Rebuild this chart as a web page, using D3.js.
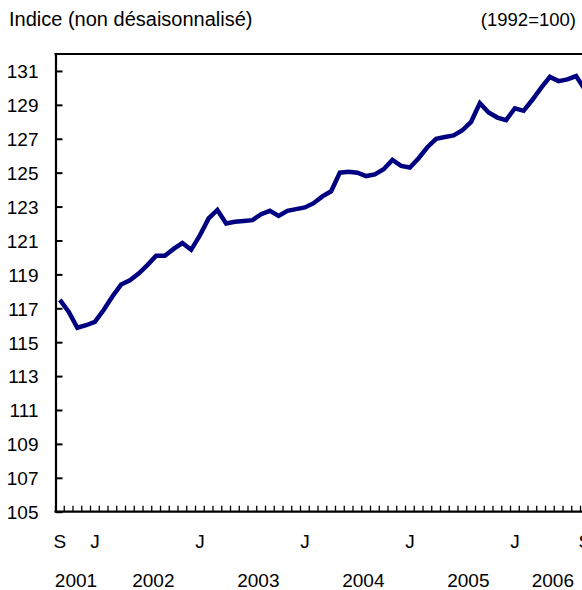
<!DOCTYPE html>
<html>
<head>
<meta charset="utf-8">
<script src="https://cdn.jsdelivr.net/npm/d3@7"></script>
<style>
    body { margin: 0; background: #fff; }
    text { font-family: "Liberation Sans", Arial, sans-serif; fill: #000; }
</style>
</head>
<body>
<div id="chart"></div>
<script>
// monthly index values, Sep 2001 -> Sep 2006
var months = d3.timeMonth.range(new Date(2001, 8, 1), new Date(2006, 9, 1));
var values = [117.5, 116.8, 115.85, 116.0, 116.2, 116.9, 117.7, 118.4, 118.65, 119.05,
    119.55, 120.1, 120.1, 120.5, 120.85, 120.45, 121.3, 122.3, 122.8, 122.0,
    122.1, 122.15, 122.2, 122.55, 122.75, 122.45, 122.75, 122.85, 122.95, 123.2,
    123.6, 123.9, 125.0, 125.05, 125.0, 124.8, 124.9, 125.2, 125.75, 125.4,
    125.3, 125.85, 126.5, 127.0, 127.1, 127.2, 127.5, 128.0, 129.1, 128.55,
    128.25, 128.1, 128.8, 128.65, 129.3, 130.0, 130.65, 130.4, 130.5, 130.7,
    129.9];
var yTicks = [105, 107, 109, 111, 113, 115, 117, 119, 121, 123, 125, 127, 129, 131];
var monthTicks = ["2001-09", "2002-01", "2003-01", "2004-01", "2005-01", "2006-01", "2006-09"];
var monthLabels = ["S", "J", "J", "J", "J", "J", "S"];
var years = [2001, 2002, 2003, 2004, 2005, 2006];

function plotLine() {
    var width = 582, height = 590;
    var margin = { left: 55.5, top: 54, bottom: 511.7 };
    var monthW = 8.75;
    var fs = "19px";

    var fmt = d3.timeFormat("%Y-%m");
    var data = months.map(function(m, i) {
        return { key: fmt(m), date: m, value: values[i] };
    });

    var x = d3.scaleBand()
        .domain(data.map(function(d) { return d.key; }))
        .range([margin.left, margin.left + monthW * data.length]);

    var y = d3.scaleLinear()
        .domain([105, 132])
        .range([margin.bottom, margin.top]);

    var svg = d3.select("#chart").append("svg")
        .attr("width", width)
        .attr("height", height);

    // titles
    svg.append("text")
        .attr("x", 9)
        .attr("y", 26)
        .style("font-size", "20px")
        .text("Indice (non désaisonnalisé)");

    svg.append("text")
        .attr("x", 576)
        .attr("y", 26)
        .attr("text-anchor", "end")
        .style("font-size", "18.5px")
        .text("(1992=100)");

    // frame (top)
    svg.append("line")
        .attr("x1", margin.left - 1).attr("x2", width + 10)
        .attr("y1", margin.top).attr("y2", margin.top)
        .attr("stroke", "#000")
        .attr("stroke-width", 2.2);

    // y axis
    var yAxis = d3.axisLeft(y)
        .tickValues(yTicks)
        .tickSizeInner(-7)
        .tickSizeOuter(0)
        .tickPadding(17);

    var gy = svg.append("g")
        .attr("transform", "translate(" + margin.left + ",0)")
        .call(yAxis);
    gy.select(".domain").attr("stroke-width", 2.2);
    gy.selectAll(".tick line").attr("stroke-width", 2);
    gy.selectAll(".tick text")
        .attr("dy", "0.36em")
        .style("font-size", fs)
        .style("font-family", "Liberation Sans, Arial, sans-serif");

    // x axis baseline + month boundary ticks
    svg.append("line")
        .attr("x1", margin.left - 1).attr("x2", width + 10)
        .attr("y1", margin.bottom).attr("y2", margin.bottom)
        .attr("stroke", "#000")
        .attr("stroke-width", 2.2);

    svg.append("g")
        .selectAll("line")
        .data(data)
        .enter().append("line")
        .attr("x1", function(d) { return x(d.key); })
        .attr("x2", function(d) { return x(d.key); })
        .attr("y1", margin.bottom)
        .attr("y2", margin.bottom - 6)
        .attr("stroke", "#000")
        .attr("stroke-width", 1.3);

    svg.append("g")
        .selectAll("text")
        .data(monthTicks)
        .enter().append("text")
        .attr("x", function(d) { return x(d) + x.bandwidth() / 2; })
        .attr("y", 548)
        .attr("text-anchor", "middle")
        .style("font-size", fs)
        .text(function(d, i) { return monthLabels[i]; });

    svg.append("g")
        .selectAll("text")
        .data(years)
        .enter().append("text")
        .attr("x", function(yr) {
            var ms = data.filter(function(d) { return d.date.getFullYear() === yr; });
            if (ms.length === 12) return x(yr + "-07") + x.bandwidth() / 2 + 6;
            var a = x(ms[0].key), b = x(ms[ms.length - 1].key) + x.bandwidth();
            return (a + b) / 2 + 3;
        })
        .attr("y", 587)
        .attr("text-anchor", "middle")
        .style("font-size", fs)
        .text(function(d) { return d; });

    // series
    var line = d3.line()
        .x(function(d) { return x(d.key) + x.bandwidth() / 2; })
        .y(function(d) { return y(d.value); });

    svg.append("path")
        .datum(data)
        .attr("fill", "none")
        .attr("stroke", "#000080")
        .attr("stroke-width", 4.5)
        .attr("d", line);
}

plotLine();
</script>
</body>
</html>
